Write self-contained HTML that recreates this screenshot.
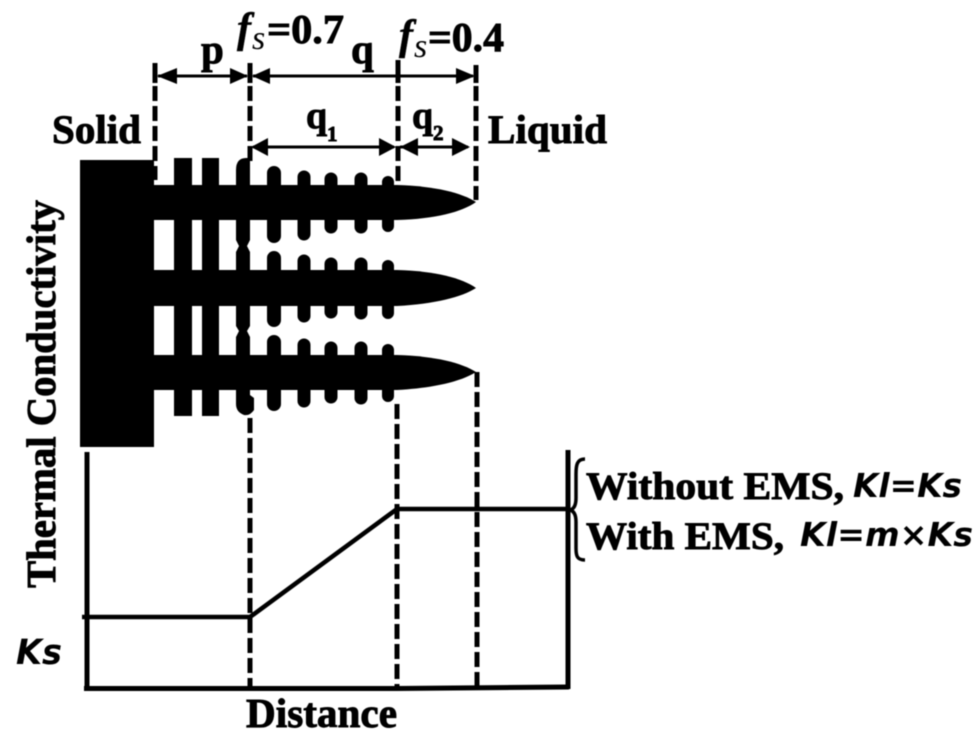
<!DOCTYPE html>
<html><head><meta charset="utf-8"><style>
html,body{margin:0;padding:0;background:#fff}
svg{display:block}
.s{font-family:"Liberation Serif",serif;font-weight:bold;fill:#000;stroke:#000;stroke-width:.9px}
.f{font-family:"Liberation Serif",serif;font-style:italic;font-weight:bold;fill:#000;stroke:#000;stroke-width:.5px}
.fn{font-family:"Liberation Serif",serif;font-style:italic;fill:#000}
.k{font-family:"DejaVu Sans",sans-serif;font-style:italic;font-weight:bold;fill:#000}
</style></head><body>
<svg width="980" height="738" viewBox="0 0 980 738" xmlns="http://www.w3.org/2000/svg">
<defs><filter id="b" x="-2%" y="-2%" width="104%" height="104%"><feGaussianBlur stdDeviation="0.6"/></filter></defs>
<rect width="980" height="738" fill="#fff"/>
<g filter="url(#b)">
<!-- solid block -->
<rect x="80" y="160" width="74" height="287" fill="#000"/>
<!-- fingers -->
<path d="M150 185H397C435 186 462 193 476 202C462 212 435 219 397 220H150Z" fill="#000"/>
<path d="M150 270H397C435 271 462 278 476 288C462 297 435 304 397 306H150Z" fill="#000"/>
<path d="M150 355H397C435 356 462 363 476 372C462 381 435 388 397 390H150Z" fill="#000"/>
<!-- straight bars -->
<rect x="174" y="158" width="18" height="258" fill="#000"/>
<rect x="202" y="158" width="17" height="258" fill="#000"/>
<!-- third bar -->
<path d="M236 170Q236 158 246 158H250V240L247 246L250 252V326L247 331L250 337V395L254 398V410Q250 416 244 415Q236 412 236 404V337L239 331L236 326V252L239 246L236 240Z" fill="#000"/>
<!-- secondary arms -->
<g stroke="#000" stroke-linecap="round" fill="none">
<g stroke-width="14">
<path d="M274 173V236M274 258V320M274 342V404"/>
</g>
<g stroke-width="13">
<path d="M304 177V234M304 261V316M304 345V401"/>
<path d="M331 179V227M331 264V312M331 348V397"/>
<path d="M361 179V227M361 264V313M361 348V398"/>
</g>
<g stroke-width="12">
<path d="M388 182V226M388 266V313M388 350V396"/>
</g>
</g>
<!-- dashed guides -->
<g stroke="#000" stroke-width="5" fill="none" stroke-dasharray="15 5">
<path d="M155 86V180"/>
<path d="M250 86V162"/>
<path d="M250 418V688"/>
<path d="M398 86V186"/>
<path d="M397 404V688"/>
<path d="M476 86V200"/>
<path d="M477 372V688"/>
</g>
<g stroke="#000" stroke-width="5" fill="none">
<path d="M155 63V83M250 63V83M398 60V83M476 65V83"/>
</g>
<!-- dimension lines -->
<g stroke="#000" stroke-width="3" fill="none">
<path d="M158 76H247M253 76H473"/>
<path d="M253 147H394M400 147H468"/>
</g>
<g fill="#000">
<path d="M157 76L177 68V84Z"/>
<path d="M248 76L230 68V84Z"/>
<path d="M252 76L270 68V84Z"/>
<path d="M475 76L456 68V84Z"/>
<path d="M251 147L268 138V156Z"/>
<path d="M396 147L379 138V156Z"/>
<path d="M400 147L418 138V156Z"/>
<path d="M470 147L452 138V156Z"/>
</g>
<!-- axes -->
<g stroke="#000" stroke-width="5" fill="none">
<path d="M87 452V689"/>
<path d="M84 688.5L397 688.5L569 687"/>
<path d="M568 450V689"/>
</g>
<!-- curve -->
<path d="M82 617H250L397 509H568" stroke="#000" stroke-width="4.5" fill="none"/>
<!-- brace -->
<path d="M585 459C577 459 576 465 576 474V498C576 505 574 509 570 510C574 511 576 515 576 522V548C576 556 577 560 585 560" stroke="#000" stroke-width="3.5" fill="none"/>
<!-- labels -->
<text class="s" x="52" y="143" font-size="40" textLength="89" lengthAdjust="spacingAndGlyphs">Solid</text>
<text class="s" x="488" y="143" font-size="40" textLength="119" lengthAdjust="spacingAndGlyphs">Liquid</text>
<text class="s" x="201" y="63" font-size="41">p</text>
<text class="s" x="351" y="63" font-size="41">q</text>
<text class="s" x="306" y="128" font-size="38">q</text>
<text class="s" x="327" y="141" font-size="21">1</text>
<text class="s" x="412" y="128" font-size="38">q</text>
<text class="s" x="433" y="140" font-size="21">2</text>
<text class="f" x="237" y="42" font-size="42">f</text>
<text class="fn" x="252" y="49" font-size="34">s</text>
<text class="s" x="267" y="43" font-size="41" textLength="77" lengthAdjust="spacingAndGlyphs">=0.7</text>
<text class="f" x="399" y="49" font-size="42">f</text>
<text class="fn" x="414" y="57" font-size="34">s</text>
<text class="s" x="428" y="51" font-size="41" textLength="76" lengthAdjust="spacingAndGlyphs">=0.4</text>
<text class="s" font-size="41" transform="translate(55,588) rotate(-90)" textLength="388" lengthAdjust="spacingAndGlyphs">Thermal Conductivity</text>
<text class="s" x="246" y="727" font-size="41" textLength="151" lengthAdjust="spacingAndGlyphs">Distance</text>
<text class="s" x="586" y="499" font-size="39" textLength="258" lengthAdjust="spacingAndGlyphs">Without EMS,</text>
<text class="s" x="586" y="549" font-size="39" textLength="198" lengthAdjust="spacingAndGlyphs">With EMS,</text>
<text class="k" x="853" y="497" font-size="33" textLength="109" lengthAdjust="spacingAndGlyphs">Kl=Ks</text>
<text class="k" x="800" y="546" font-size="33" textLength="173" lengthAdjust="spacingAndGlyphs">Kl=m×Ks</text>
<text class="k" x="16" y="664" font-size="35" textLength="46" lengthAdjust="spacingAndGlyphs">Ks</text>
</g>
</svg>
</body></html>
